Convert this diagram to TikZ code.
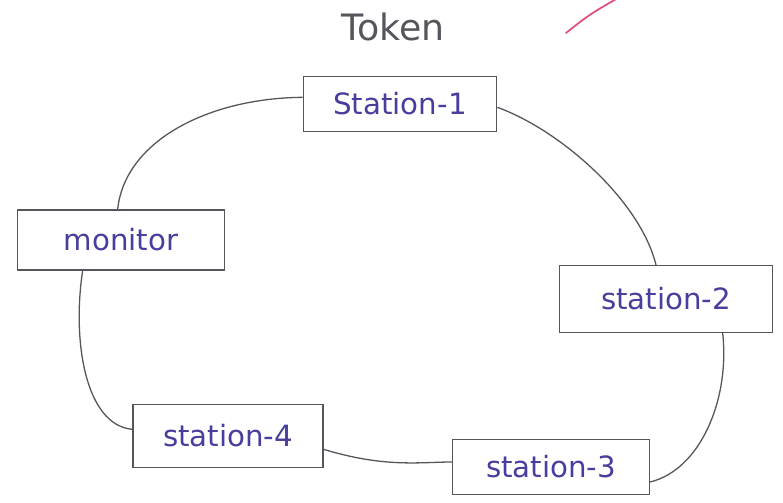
\documentclass[tikz,border=0pt]{standalone}
\usepackage{fontspec}
\setmainfont{DejaVu Sans}
\usepackage{tikz}
\usepackage{xcolor}
\definecolor{inkblue}{RGB}{72,62,158}
\definecolor{pencil}{RGB}{85,85,92}
\definecolor{tickred}{RGB}{222,80,120}

\begin{document}
\begin{tikzpicture}[
    x=0.03cm, y=-0.03cm,
    every node/.style={font=\fontsize{25}{30}\selectfont, text=inkblue},
    station/.style={draw=pencil, line width=1.2pt, inner sep=3pt},
    ring/.style={draw=pencil, line width=1.1pt},
    title/.style={font=\fontsize{31}{36}\selectfont, text=pencil}
]
\useasboundingbox (0,0) rectangle (783,502);

% Title
\node[title] (token) at (393,27) {Token};

% Stations
\node[station, minimum width=5.8cm, minimum height=1.65cm] (s1) at (400,104) {Station-1};
\node[station, minimum width=6.2cm, minimum height=1.8cm] (mon) at (121,240) {monitor};
\node[station, minimum width=6.4cm, minimum height=2cm] (s2) at (666,299) {station-2};
\node[station, minimum width=5.9cm, minimum height=1.65cm] (s3) at (551,467) {station-3};
\node[station, minimum width=5.7cm, minimum height=1.9cm] (s4) at (228,436) {station-4};

% Ring
\draw[ring] ([yshift=0.2cm]s1.west) .. controls (210,98) and (125,140) .. ([xshift=-0.1cm]mon.north);
\draw[ring] ([xshift=-1.15cm]mon.south) .. controls (72,340) and (85,425) .. ([yshift=0.2cm]s4.west);
\draw[ring] ([yshift=-0.4cm]s4.east) .. controls (385,468) and (420,462) .. ([yshift=0.15cm]s3.west);
\draw[ring] ([yshift=-0.45cm]s3.east) .. controls (700,470) and (730,400) .. ([xshift=1.7cm]s2.south);
\draw[ring] ([xshift=-0.3cm]s2.north) .. controls (640,200) and (560,130) .. ([yshift=-0.1cm]s1.east);

% Check stroke
\draw[tickred, line width=1.5pt, line cap=round] (566,33) .. controls (590,14) .. (625,-6);

\end{tikzpicture}
\end{document}
